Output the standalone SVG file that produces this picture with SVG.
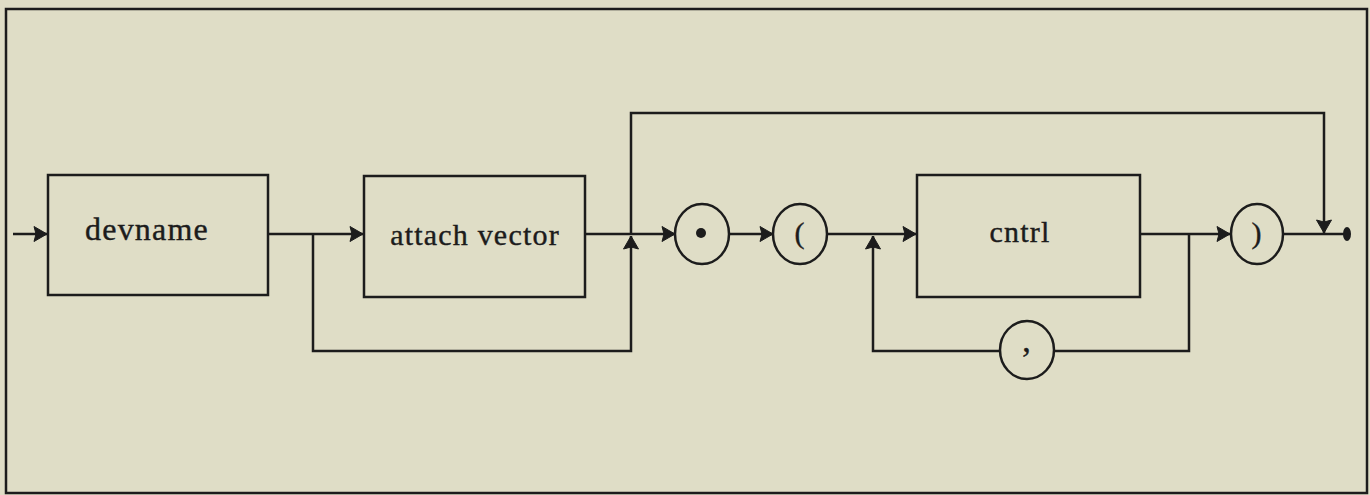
<svg xmlns="http://www.w3.org/2000/svg" width="1370" height="495" viewBox="0 0 1370 495">
<style>
.bg{fill:#dfddc6}
.frame{fill:none;stroke:#1c1c1c;stroke-width:2.5}
.box{fill:none;stroke:#1c1c1c;stroke-width:2.5}
.term{fill:none;stroke:#1c1c1c;stroke-width:2.5}
.lbl{font-family:"Liberation Serif","DejaVu Serif",serif;fill:#1c1c1c;stroke:#1c1c1c;stroke-width:0.4;letter-spacing:1.2px;text-anchor:middle}
.conn path{fill:none;stroke:#1c1c1c;stroke-width:2.5}
</style>
<defs>
<marker id="arr" markerUnits="userSpaceOnUse" markerWidth="18" markerHeight="18" viewBox="-16 -9 18 18" refX="0" refY="0" orient="auto">
<path d="M0,0 L-13,-7.5 L-11,0 L-13,7.5 Z" fill="#1c1c1c" stroke="#1c1c1c" stroke-width="1"/>
</marker>
</defs>
<rect class="bg" x="0" y="0" width="1370" height="495"/>
<rect class="frame" x="6" y="9" width="1361" height="484"/>

<g id="connectors" class="conn">
<path d="M13,234 H47" marker-end="url(#arr)"/>
<path d="M268,234 H363" marker-end="url(#arr)"/>
<path d="M313,234 V351 H631 V236" marker-end="url(#arr)"/>
<path d="M585,234 H675" marker-end="url(#arr)"/>
<path d="M631,234 V113 H1324 V233" marker-end="url(#arr)"/>
<path d="M730,234 H773" marker-end="url(#arr)"/>
<path d="M827,234 H916" marker-end="url(#arr)"/>
<path d="M1140,234 H1230" marker-end="url(#arr)"/>
<path d="M1189,234 V351 H1054"/>
<path d="M1000,351 H873 V236" marker-end="url(#arr)"/>
<path d="M1283,234 H1344"/>
<ellipse cx="1347" cy="234" rx="4" ry="7" fill="#1c1c1c"/>
</g>

<g id="devname">
<rect class="box" x="48" y="175" width="220" height="120"/>
<text class="lbl" x="147" y="240" font-size="32">devname</text>
</g>
<g id="attach_vector">
<rect class="box" x="364" y="176" width="221" height="121"/>
<text class="lbl" x="475" y="245" font-size="30">attach vector</text>
</g>
<g id="dot">
<ellipse class="term" cx="702" cy="234" rx="27" ry="30"/>
<circle cx="701" cy="233" r="5" fill="#1c1c1c"/>
</g>
<g id="lparen">
<ellipse class="term" cx="800" cy="234" rx="27" ry="30"/>
<text class="lbl" x="800" y="243" font-size="30">(</text>
</g>
<g id="cntrl">
<rect class="box" x="917" y="175" width="223" height="122"/>
<text class="lbl" x="1020" y="242" font-size="30">cntrl</text>
</g>
<g id="comma">
<ellipse class="term" cx="1027" cy="350" rx="27" ry="29"/>
<text class="lbl" x="1027" y="352" font-size="34">,</text>
</g>
<g id="rparen">
<ellipse class="term" cx="1257" cy="234" rx="26" ry="30"/>
<text class="lbl" x="1257" y="243" font-size="30">)</text>
</g>
</svg>
